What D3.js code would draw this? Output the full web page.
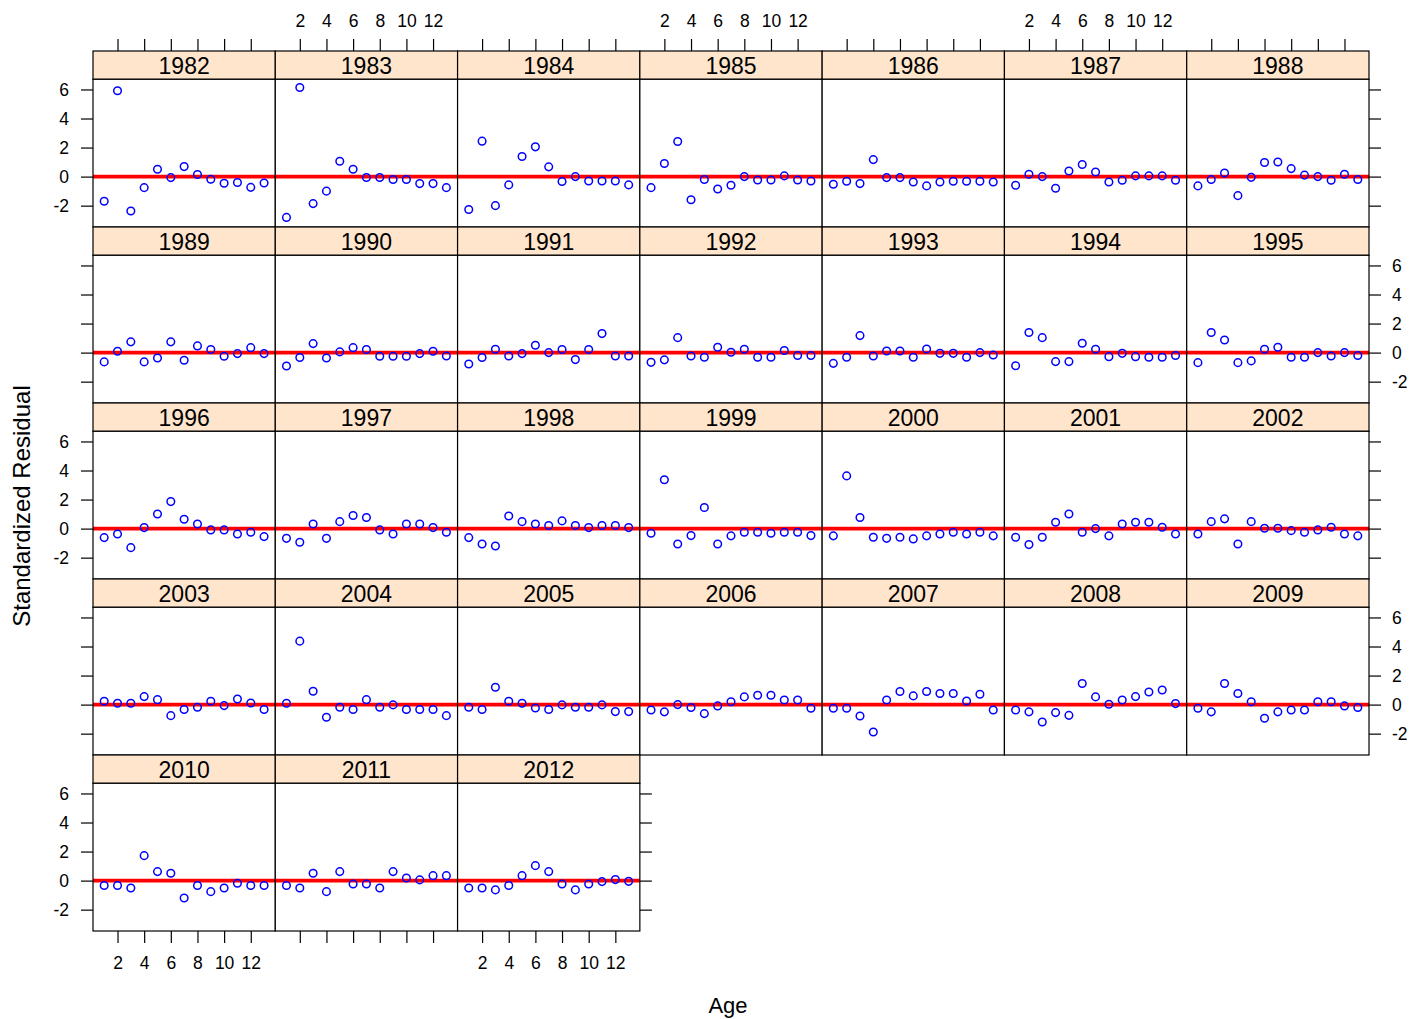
<!DOCTYPE html>
<html>
<head>
<meta charset="utf-8">
<script src="https://cdn.jsdelivr.net/npm/d3@7"></script>
<style>
  html, body { margin: 0; padding: 0; background: #fff; }
  svg { display: block; }
  text { font-family: "Liberation Sans", Arial, sans-serif; fill: #000; }
</style>
</head>
<body>
<svg id="chart" width="1414" height="1019"></svg>
<script>
// ---------- data ----------
const years = [1982,1983,1984,1985,1986,1987,1988,1989,1990,1991,1992,1993,1994,1995,1996,1997,1998,1999,2000,2001,2002,2003,2004,2005,2006,2007,2008,2009,2010,2011,2012];
const ages = [1,2,3,4,5,6,7,8,9,10,11,12,13];
const xTicks = [2,4,6,8,10,12];
const yTicks = [-2,0,2,4,6];

const r1982 = [-1.70, 5.91, -2.37, -0.76, 0.51, -0.07, 0.69, 0.14, -0.18, -0.46, -0.41, -0.74, -0.44];
const r1983 = [-2.81, 6.14, -1.86, -1.00, 1.06, 0.51, -0.06, -0.06, -0.20, -0.20, -0.48, -0.48, -0.76];
const r1984 = [-2.26, 2.44, -2.00, -0.57, 1.38, 2.05, 0.67, -0.34, 0.00, -0.30, -0.30, -0.30, -0.57];
const r1985 = [-0.76, 0.90, 2.42, -1.59, -0.20, -0.85, -0.60, 0.00, -0.23, -0.23, 0.05, -0.23, -0.30];
const r1986 = [-0.53, -0.32, -0.48, 1.17, -0.07, -0.07, -0.37, -0.64, -0.37, -0.32, -0.32, -0.32, -0.37];
const r1987 = [-0.60, 0.16, 0.00, -0.80, 0.39, 0.83, 0.32, -0.37, -0.25, 0.05, 0.05, 0.05, -0.25];
const r1988 = [-0.64, -0.20, 0.25, -1.31, -0.05, 0.97, 1.01, 0.55, 0.10, 0.00, -0.25, 0.16, -0.20];
const r1989 = [-0.64, 0.09, 0.74, -0.64, -0.37, 0.74, -0.53, 0.46, 0.21, -0.25, -0.07, 0.34, -0.07];
const r1990 = [-0.92, -0.34, 0.62, -0.37, 0.05, 0.34, 0.21, -0.25, -0.25, -0.25, -0.07, 0.09, -0.23];
const r1991 = [-0.78, -0.34, 0.23, -0.23, -0.07, 0.51, 0.00, 0.21, -0.48, 0.21, 1.31, -0.23, -0.23];
const r1992 = [-0.67, -0.50, 1.03, -0.23, -0.32, 0.37, 0.02, 0.23, -0.32, -0.32, 0.14, -0.20, -0.20];
const r1993 = [-0.74, -0.32, 1.17, -0.23, 0.11, 0.11, -0.32, 0.25, -0.05, -0.05, -0.32, 0.00, -0.16];
const r1994 = [-0.90, 1.38, 1.03, -0.62, -0.62, 0.64, 0.23, -0.28, -0.05, -0.28, -0.32, -0.32, -0.20];
const r1995 = [-0.69, 1.38, 0.87, -0.69, -0.57, 0.23, 0.37, -0.32, -0.32, 0.00, -0.23, 0.00, -0.20];
const r1996 = [-0.62, -0.37, -1.31, 0.07, 1.01, 1.86, 0.64, 0.32, -0.09, -0.09, -0.37, -0.25, -0.55];
const r1997 = [-0.67, -0.94, 0.32, -0.67, 0.48, 0.90, 0.76, -0.09, -0.37, 0.32, 0.32, 0.07, -0.25];
const r1998 = [-0.62, -1.06, -1.20, 0.87, 0.48, 0.32, 0.21, 0.53, 0.21, 0.07, 0.21, 0.21, 0.07];
const r1999 = [-0.32, 3.36, -1.06, -0.48, 1.45, -1.06, -0.50, -0.25, -0.25, -0.32, -0.25, -0.25, -0.48];
const r2000 = [-0.50, 3.63, 0.76, -0.60, -0.67, -0.60, -0.71, -0.50, -0.37, -0.25, -0.37, -0.25, -0.50];
const r2001 = [-0.60, -1.10, -0.60, 0.44, 1.01, -0.25, 0.00, -0.50, 0.32, 0.44, 0.44, 0.09, -0.37];
const r2002 = [-0.37, 0.48, 0.67, -1.06, 0.48, 0.02, 0.02, -0.14, -0.25, -0.09, 0.09, -0.37, -0.50];
const r2003 = [0.23, 0.09, 0.09, 0.55, 0.34, -0.76, -0.34, -0.18, 0.23, -0.07, 0.39, 0.11, -0.34];
const r2004 = [0.09, 4.37, 0.92, -0.87, -0.18, -0.34, 0.34, -0.18, -0.02, -0.34, -0.34, -0.34, -0.76];
const r2005 = [-0.18, -0.34, 1.20, 0.23, 0.09, -0.23, -0.34, -0.02, -0.18, -0.18, -0.02, -0.48, -0.48];
const r2006 = [-0.37, -0.50, 0.00, -0.20, -0.62, -0.09, 0.20, 0.53, 0.64, 0.64, 0.32, 0.32, -0.25];
const r2007 = [-0.25, -0.25, -0.78, -1.89, 0.32, 0.90, 0.60, 0.90, 0.76, 0.76, 0.25, 0.71, -0.37];
const r2008 = [-0.37, -0.50, -1.20, -0.55, -0.74, 1.45, 0.53, 0.02, 0.32, 0.55, 0.87, 1.01, 0.07];
const r2009 = [-0.25, -0.50, 1.45, 0.76, 0.20, -0.94, -0.50, -0.37, -0.37, 0.20, 0.20, -0.09, -0.20];
const r2010 = [-0.34, -0.34, -0.51, 1.72, 0.62, 0.51, -1.20, -0.34, -0.76, -0.51, -0.18, -0.34, -0.34];
const r2011 = [-0.34, -0.51, 0.51, -0.76, 0.62, -0.23, -0.23, -0.51, 0.62, 0.18, 0.05, 0.34, 0.34];
const r2012 = [-0.51, -0.51, -0.64, -0.34, 0.34, 1.03, 0.62, -0.23, -0.64, -0.23, -0.07, 0.07, -0.05];

const residuals = [r1982,r1983,r1984,r1985,r1986,r1987,r1988,r1989,r1990,r1991,r1992,r1993,r1994,r1995,
  r1996,r1997,r1998,r1999,r2000,r2001,r2002,r2003,r2004,r2005,r2006,r2007,r2008,r2009,r2010,r2011,r2012];

const xLabel = "Age";
const yLabel = "Standardized Residual";

// ---------- layout ----------
(function () {
const plotL = 93, plotR = 1369, plotT = 51, plotB = 931;
const nCols = 7, nRows = 5;
const colW = (plotR - plotL) / nCols;
const rowH = (plotB - plotT) / nRows;
const stripH = 28.3;
const panelH = rowH - stripH;
const tickLen = 12;

const svg = d3.select("#chart");

const x = d3.scaleLinear().domain([0.16, 13.84]).range([0, colW]);
const y = d3.scaleLinear().domain([-3.47, 6.70]).range([panelH, 0]);

const axisFont = "17.5px";
const stripFont = "23px";
const fmt = d => (d < 0 ? "-" + Math.abs(d) : String(d));

const styleAxis = (ag, showLabels) => {
  ag.select(".domain").remove();
  ag.selectAll(".tick line").attr("stroke", "#000").attr("stroke-width", 1.2);
  ag.selectAll(".tick text").style("font-size", axisFont)
    .style("font-family", '"Liberation Sans", Arial, sans-serif').attr("fill", "#000");
  if (!showLabels) ag.selectAll(".tick text").remove();
};

years.forEach((yr, i) => {
  const col = i % nCols, row = Math.floor(i / nCols);
  const px = plotL + col * colW;
  const sy = plotT + row * rowH;
  const py = sy + stripH;

  // strip
  const g = svg.append("g");
  g.append("rect").attr("x", px).attr("y", sy).attr("width", colW).attr("height", stripH)
    .attr("fill", "#ffe5cc").attr("stroke", "#000").attr("stroke-width", 1.2);
  g.append("text").attr("x", px + colW / 2).attr("y", sy + stripH / 2 + 1)
    .attr("text-anchor", "middle").attr("dominant-baseline", "central")
    .style("font-size", stripFont).text(yr);

  // panel
  const pg = svg.append("g").attr("transform", `translate(${px},${py})`);
  pg.append("rect").attr("width", colW).attr("height", panelH).attr("fill", "#fff");
  pg.append("line").attr("x1", 0).attr("x2", colW).attr("y1", y(0)).attr("y2", y(0))
    .attr("stroke", "#ff0000").attr("stroke-width", 3.6);
  pg.selectAll("circle").data(ages.map((a, k) => [a, residuals[i][k]])).enter()
    .append("circle").attr("cx", d => x(d[0])).attr("cy", d => y(d[1])).attr("r", 3.8)
    .attr("fill", "none").attr("stroke", "#0000ff").attr("stroke-width", 1.5);
  pg.append("rect").attr("width", colW).attr("height", panelH).attr("fill", "none")
    .attr("stroke", "#000").attr("stroke-width", 1.2);

  // top axis (first row)
  if (row === 0) {
    const ag = svg.append("g").attr("transform", `translate(${px},${sy})`)
      .call(d3.axisTop(x).tickValues(xTicks).tickSize(tickLen).tickPadding(12).tickFormat(fmt));
    styleAxis(ag, col % 2 === 1);
  }
  // bottom axis (bottom row)
  if (row === nRows - 1) {
    const ag = svg.append("g").attr("transform", `translate(${px},${py + panelH})`)
      .call(d3.axisBottom(x).tickValues(xTicks).tickSize(tickLen).tickPadding(14).tickFormat(fmt));
    styleAxis(ag, col % 2 === 0);
  }
  // left axis
  if (col === 0) {
    const ag = svg.append("g").attr("transform", `translate(${px},${py})`)
      .call(d3.axisLeft(y).tickValues(yTicks).tickSize(tickLen).tickPadding(12).tickFormat(fmt));
    styleAxis(ag, row % 2 === 0);
  }
  // right axis
  const lastInRow = (col === nCols - 1) || (i === years.length - 1);
  if (lastInRow) {
    const ag = svg.append("g").attr("transform", `translate(${px + colW},${py})`)
      .call(d3.axisRight(y).tickValues(yTicks).tickSize(tickLen).tickPadding(11).tickFormat(fmt));
    styleAxis(ag, row % 2 === 1);
  }
});

// axis titles
svg.append("text").attr("x", 728).attr("y", 1013).attr("text-anchor", "middle")
  .style("font-size", "22px").text(xLabel);
svg.append("text").attr("transform", "translate(30,506) rotate(-90)").attr("text-anchor", "middle")
  .style("font-size", "24px").text(yLabel);
})();
</script>
</body>
</html>
